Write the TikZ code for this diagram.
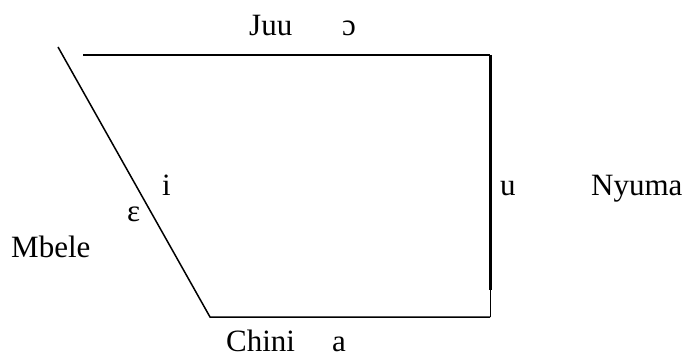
\documentclass[tikz,border=0pt]{standalone}
\usepackage{fontspec}
\setmainfont{Liberation Serif}
\begin{document}
\begin{tikzpicture}[x=1pt,y=-1pt,
  lbl/.style={anchor=base west,inner sep=0pt,font=\fontsize{31}{37}\selectfont},
  edge/.style={line width=1.5pt,black},
  thick edge/.style={line width=3pt,black}]
\useasboundingbox (0,0) rectangle (687,355);
\coordinate (tl) at (83,55);
\coordinate (tr) at (490,55);
\coordinate (rm) at (490,290);
\coordinate (br) at (490,317);
\coordinate (bl) at (210,317);
\coordinate (ft) at (58,47);
\draw[edge] (tl) -- (tr);
\draw[thick edge] (tr) -- (rm);
\draw[line width=1pt] (rm) -- (br);
\draw[edge] (br) -- (bl) -- (ft);
\node[lbl] (juu) at (249,36) {Juu};
\node[lbl] (oo) at (342,36) {ɔ};
\node[lbl] (ii) at (162,196) {i};
\node[lbl] (ee) at (127,222) {ε};
\node[lbl] (mbele) at (11,257) {Mbele};
\node[lbl] (uu) at (500,196) {u};
\node[lbl] (nyuma) at (591,196) {Nyuma};
\node[lbl] (chini) at (226,351) {Chini};
\node[lbl] (aa) at (332,351) {a};
\end{tikzpicture}
\end{document}
